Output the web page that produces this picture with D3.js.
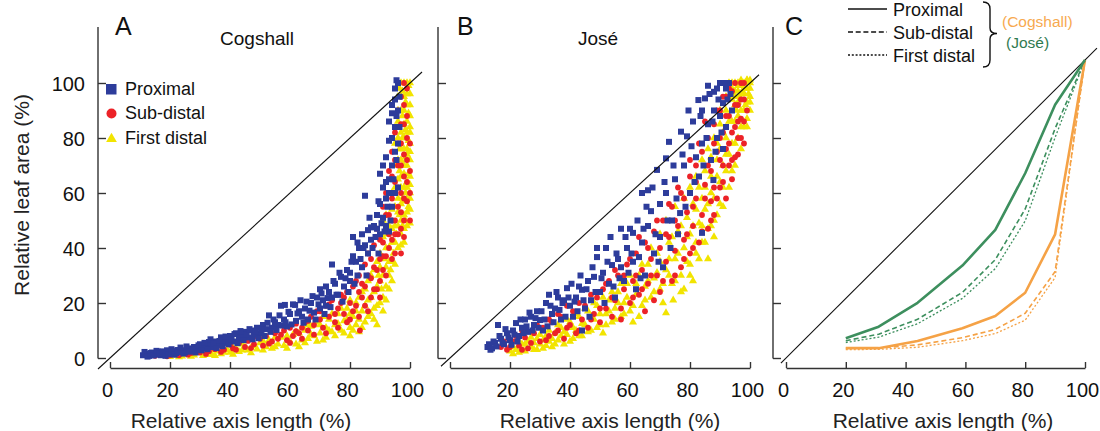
<!DOCTYPE html>
<html>
<head>
<meta charset="utf-8">
<script src="https://cdn.jsdelivr.net/npm/d3@7"></script>
<style>
  html, body { margin: 0; padding: 0; background: #fff; }
  svg { display: block; font-family: "Liberation Sans", Arial, Helvetica, sans-serif; }
</style>
</head>
<body>
<svg id="chart" width="1100" height="431"></svg>
<script>
// ---------------- DATA ----------------
const xTicks = [0, 20, 40, 60, 80, 100];
const yTicks = [0, 20, 40, 60, 80, 100];
const seriesNames = ["Proximal", "Sub-distal", "First distal"];
const panelTitles = ["Cogshall", "José"];

// Panel A – Cogshall  [relative axis length, relative leaf area]
const cogshallProximal = [
  [11,1],[12,1.5],[13,0.8],[14,2],[15,1.2],[16,2.3],[17,1],[18,1.8],[20,1.5],[21,2.5],[22,1.8],[24,2.8],
  [25,2],[26,3.5],[27,2.5],[28,4],[29,3],[30,5],[31,3.5],[32,4.5],[33,5.8],[34,4],[35,6],[36,4.8],
  [37,7.5],[38,5.5],[39,6.5],[40,8],[41,6],[42,9],[43,7],[44,8],[45,9.5],[46,7.5],[47,10],[48,8.5],
  [49,11],[50,9],[51,12],[52,10.5],[53,15.5],[54,11],[55,13],[56,12],[57,19],[58,14],[59,11.5],[60,16],
  [61,19.5],[62,13.5],[63,17],[64,15],[65,18],[66,14],[67,20],[68,16.5],[69,22],[70,18],[70,25],[71,21],
  [72,19],[73,24],[74,34],[74,22],[75,27],[76,23],[77,29.5],[78,26],[79,32],[80,28],[80,31],[81,44],
  [81,37],[82,35],[83,40],[84,45],[84,33],[85,59],[85,41],[86,46.5],[86,38],[87,43],[88,48],[89,47],
  [89,52],[90,45],[90,67],[90,56],[91,51],[91,62],[92,73],[92,48],[92,58],[93,79],[93,65],[93,46],
  [94,89],[94,70],[94,55],[95,94],[95,84],[95,75],[96,100],[96,90],[96,62],
  [11.5,2.2],[12.5,0.5],[13.5,1.8],[14.5,0.9],[15.5,2.6],[16.5,1.5],[17.5,2.4],[18.5,0.8],[19,2.8],[19.5,1.4],
  [20.5,3.2],[21.5,1.2],[22.5,2.9],[23,2.1],[23.5,3.8],[24.5,1.6],[25.5,4.2],[26.5,2.3],[27.5,3.2],[28.5,2],
  [29.5,4.6],[30.5,2.8],[31.5,5.5],[32.5,3.2],[33.5,6.8],[34.5,5.2],[35.5,3.6],[36.5,6.2],[37.5,4.3],[38.5,7.8],
  [39.5,5],[40.5,6.8],[41.5,8.7],[42.5,5.4],[43.5,9.8],[44.5,6.5],[45.5,8.4],[46.5,10.5],[47.5,6.8],[48.5,9.5],
  [49.5,7.2],[50.5,10.2],[51.5,8],[52.5,12.8],[53.5,9.5],[54.5,14],[55.5,10.2],[56.5,15.5],[57.5,11.8],[58.3,19.3],
  [58.5,13],[59.5,16.8],[60.5,12.2],[61.7,19.3],[62.5,16.2],[63.5,21],[64.5,12.8],[65.5,20.5],[66.5,17.2],[67.5,22.5],
  [68.5,14],[69.5,19.5],[70.5,23.5],[71.5,16],[72,26],[72.5,21.8],[73.5,18.5],[74.5,28],[75.5,23],[76.5,31],
  [77.5,20.5],[78.5,29],[79.5,24],[80.5,35],[81.5,27],[82.5,42],[82.5,30],[83.5,36],[84.5,40],[85.5,30],
  [86.5,51],[87.5,40],[87,47.5],[88.5,44],[89.5,38],[89.5,57],[90.5,49],[91,70],[91.5,46],[92,64],
  [92.5,55],[93,86],[93,60],[93.5,50],[94,80],[94,92],[94.5,65],[95,60],[95,98],[95.5,88],
  [95.5,72],[96,78],[96.5,95],[96.5,84],[95.5,101]
];
const cogshallSubDistal = [
  [15,0.8],[18,1.2],[20,1],[22,1.5],[24,2],[26,1.2],[28,2.5],[30,2],[31,3.5],[33,2.5],[35,3.2],[36,4.5],
  [38,3],[40,4.8],[41,3.5],[43,5.5],[45,4],[46,6.2],[48,5],[50,7],[51,4.5],[52,8],[54,6],[55,9],
  [56,7],[58,10],[59,6.5],[60,11],[61,8],[62,12.5],[63,9],[64,11],[65,13],[66,10],[67,15],[68,12],
  [69,17],[70,14],[71,11],[72,19],[73,15],[74,21],[75,13],[76,18],[77,23],[78,16],[79,24],[80,20],
  [80,14],[81,26],[82,19],[83,24],[83,30],[83.3,10],[84,22],[85,34],[85,26],[86,17],[86,38],[87,29],
  [87,22],[88,41],[88,33],[89,25],[89,47],[90,36],[90,28],[91,55],[91,42],[91,32],[92,60],[92,48],
  [92,37],[93,68],[93,52],[93,40],[94,75],[94,58],[94,43],[95,82],[95,64],[95,50],[95,38],[96,90],
  [96,70],[96,55],[97,95],[97,78],[97,60],[97,47],[98,85],[98,66],[98,50],[99,98],[99,72],[99,57],
  [100,68],[100,50],
  [16,1.8],[19,0.6],[21,2.3],[23,1],[25,2.8],[27,1.8],[29,3.2],[32,1.5],[34,3.8],[37,2.2],[39,5.6],[42,3],
  [44,6.8],[47,3.6],[49,7.8],[53,5.2],[57,8.5],[60,5.5],[62,9.8],[64,7],[66,13.5],[68,8.5],[70,17],[72,9],
  [73,19.5],[75,16],[76,11],[77,20],[78,22],[79,13],[81,17],[82,28],[83,15],[84,27],[85,19],[86,30],
  [87,36],[88,25],[89,32],[90,43],[90,22],[91,37],[92,52],[92,30],[93,45],[93,60],[94,50],[94,66],
  [94,36],[95,72],[95,45],[96,62],[96,78],[96,45],[97,85],[97,70],[97,53],[98,92],[98,74],[98,58],
  [98,44],[99,88],[99,80],[99,64],[100,78],[100,60],[97,38],[96,100],[98,100]
];
const cogshallFirstDistal = [
  [20,0.5],[22,1],[24,0.7],[26,1.5],[28,1],[30,1.8],[31,0.8],[33,2],[34,1.2],[36,2.5],[37,1.5],[39,3],
  [40,2],[42,3.5],[43,2.3],[45,4],[46,2.8],[48,4.5],[49,3.2],[50,5.5],[52,4],[53,6.5],[54,3.5],[56,5],
  [57,7.5],[58,4.5],[60,6],[61,8.5],[62,5],[63,9],[64,6.5],[65,10],[66,7],[67,11.5],[68,8],[69,13],
  [70,9],[71,6.5],[72,11],[73,14],[74,9.5],[75,12],[76,16],[77,10],[78,13.5],[79,18],[80,11],[80,8],
  [81,15],[82,20],[82,12],[83,9.5],[84,17],[84,24],[85,13],[86,21],[86,28],[87,16],[88,32],[88,24],
  [89,19],[89,12],[90,38],[90,28],[91,22],[91,44],[92,33],[92,26],[92,52],[93,40],[93,30],[94,47],
  [94,60],[94,35],[95,55],[95,70],[95,42],[96,80],[96,48],[96,65],[97,90],[97,72],[97,56],[97,45],
  [98,100],[98,95],[98,85],[98,76],[98,62],[98,52],[99,100],[99,92],[99,82],[99,70],[99,58],[99,48],
  [100,100],[100,96],[100,88],[100,78],[100,66],[100,54],[97,100],[97,82],[96,95],[96,86],[97,66],[99,64],
  [100,60],[98,70],[100,84],[99,76],[98,90],
  [21,1.5],[23,0.4],[25,1.8],[27,0.6],[29,2.2],[32,1.2],[35,0.8],[35,2.8],[38,2],[41,1.3],[41,3.8],[44,2.8],
  [44,5],[47,3.8],[47,1.8],[51,2.8],[51,6.2],[55,4],[55,7.5],[59,3.5],[59,8],[62,9.5],[63,4],[65,5.5],
  [66,12],[67,8.5],[69,6],[70,12],[71,15],[72,7.5],[73,10],[74,16],[75,8],[76,12.5],[77,18],[78,9],
  [79,14],[80,16],[80,21],[81,10],[82,17],[83,22],[83,14],[84,11],[85,19],[85,25],[86,15],[87,22],
  [87,30],[88,18],[88,14],[89,26],[89,35],[90,20],[90,33],[91,30],[91,17],[91,50],[92,40],[92,21],
  [93,35],[93,48],[93,25],[94,42],[94,54],[94,28],[95,48],[95,62],[95,34],[95,78],[96,58],[96,72],
  [96,40],[96,90],[97,62],[97,50],[97,76],[97,95],[98,57],[98,67],[98,80],[98,47],[99,53],[99,62],
  [99,74],[99,86],[99,96],[100,49],[100,58],[100,72],[100,82],[100,92],[97,41],[98,42],
  [96.5,52],[96.5,68],[96.5,76],[96.5,98],[97.5,48],[97.5,58],[97.5,70],[97.5,80],[97.5,88],[97.5,97],
  [98.5,50],[98.5,60],[98.5,73],[98.5,83],[98.5,93],[99.5,55],[99.5,67],[99.5,79],[99.5,89],[99.5,99],
  [100,75],[100,63],[96,53],[95.5,45],[94.5,38],[93.5,32],[92.5,45],[91.5,36],[90.5,25],[89.5,30]
];

// Panel B – José
const joseProximal = [
  [12.5,4],[13,5],[14,3.5],[15,5.5],[16,12],[17,7],[18,5],[19,9],[20,6.5],[21,10],[22,12.7],[23,8],
  [24,11],[25,14],[26,9.5],[27,15],[28,12],[29,17],[30,13.8],[31,10],[32,20],[33,23],[34,16],[35,18],
  [36,22],[37,14],[38,21],[39,25.4],[40,19],[41,15],[42,22],[43,26],[44,24.8],[44,10],[45,18],[46,28],
  [47,21],[48,29.5],[49,40],[49,36.7],[50,24],[51,31],[52,40],[53,27],[54,33.8],[55,22],[56,36],[57,47],
  [57,33],[58,28],[59,40],[60,47],[61,45.5],[61,35],[62,25],[63,36.7],[64,60],[64,42],[65,30],[66,61],
  [66,48],[67,53.4],[68,38],[69,68.4],[70,56],[70,44],[71,33],[72,72.6],[72,60],[73,78.6],[74,50],[75,65],
  [76,45],[76.7,52.7],[77,82.3],[78,70],[79,80.6],[80,60],[81,86],[82,73],[82.8,93.8],[83,66],[84,45.5],[84,78],
  [85,94.4],[86,85],[87,72],[87.8,64.7],[88,96.8],[88,90],[89,80],[90,100],[90,88],[91,92.7],[91,76],[92,98],
  [92,84],[93,100],[94,90],
  [13.5,3],[14.5,6],[15.5,4.2],[16.5,8],[17.5,5.5],[18.5,10.5],[19.5,7.5],[20.5,4.8],[21.5,8.5],[22.5,6],
  [23.5,14],[24.5,9],[25.5,11.5],[26.5,16.5],[27.5,10],[28.5,14.5],[29.5,11],[30.5,17],[31.5,14],[32.5,11.5],
  [33.5,19],[34.5,13],[35.5,24],[36.5,17.5],[37.5,20],[38.5,15],[39.5,22],[40.5,27],[41.5,20.5],[42.5,17],
  [43.5,30],[44.5,21],[45.5,25],[46.5,15],[47.5,33],[48.5,24],[50.5,29],[51.5,20],[52.5,35],[53.5,44],
  [54.5,26],[55.5,38],[56.5,29],[58.5,44],[59.5,31],[60.5,38],[62.5,50],[63.5,29],[64.5,47],[65.5,55],
  [67.5,62],[68.5,45],[69.5,35],[71.5,64],[72.5,50],[73.5,40],[74.5,70],[75.5,58],[77.5,74],[78.5,55],
  [79.5,90],[80.5,77],[81.5,64],[83.5,88],[84.5,70],[85.5,80],[86.5,96],[87.5,86],[88.5,75],[89.5,94],
  [90.5,82],[92.5,94],[93.5,96],[91.5,100],[89,98],[84,90],[86,99]
];
const joseSubDistal = [
  [17,4],[19,3],[21,6],[23,4.5],[25,7.5],[26,3.5],[28,9],[30,6],[31,11],[33,8],[34,13],[36,10],
  [37,15],[38,7],[40,12],[41,17],[42,9],[44,14],[45,19],[46,11],[48,16],[49,22],[50,13],[51,25],
  [52,18],[53,28],[54,15],[55,21],[56,30],[57,18],[58,25],[59,34],[60,20],[61,28],[62,38],[63,23],
  [64,32],[65,17],[65,42],[66,27],[67,36],[68,46],[69,30],[70,40],[70,24],[71,50],[72,35],[73,44],
  [74,28],[74,55],[75,39],[76,48],[77,60],[77,33],[78,43],[79,53],[80,38],[80,66],[81,48],[82,58],
  [82,70],[83,42],[84,52],[84,75],[85,63],[86,47],[86,80],[87,57],[87,68],[88,85],[88,52],[89,75],
  [90,62],[90,90],[91,70],[91,82],[92,95],[92,58],[93,78],[93,88],[94,65],[94,97],[95,84],[95,73],
  [96,92],[96,80],[97,100],[97,87],[98,94],[98,78],
  [18,6],[20,4],[22,8],[24,3],[24,10],[27,5.5],[29,12],[32,6.5],[33,14],[35,9],[36,16],[39,11],
  [39,19],[43,10],[43,20],[47,14],[47,23],[50,18],[52,27],[54,22],[55,32],[57,14],[58,30],[60,36],
  [61,22],[62,30],[63,44],[64,25],[66,40],[67,30],[68,21],[69,50],[71,28],[72,45],[73,56],[75,30],
  [75,50],[76,62],[78,36],[78,58],[79,45],[80,72],[81,55],[81,40],[82,64],[83,78],[84,46],[85,58],
  [85,86],[86,70],[87,50],[88,62],[88,78],[89,90],[89,58],[90,72],[90,80],[91,64],[91,95],[92,76],
  [92,88],[93,70],[93,98],[94,82],[94,72],[95,92],[95,100],[96,86],[96,74],[97,94],[97,80],[98,100],
  [98,86],[99,90]
];
const joseFirstDistal = [
  [20,2.5],[21,4],[22,3],[24,5],[25,2.5],[26,6],[27,4],[28,3],[29,7],[30,5],[31,3.5],[32,8],
  [33,6],[34,4],[35,9],[36,6.5],[37,11],[38,5],[39,8.5],[40,13],[41,7],[42,10],[43,15],[44,8],
  [45,12],[46,17],[47,10],[48,14],[49,19],[50,12],[51,9],[52,16],[53,21],[54,13],[55,18],[56,24],
  [57,15],[58,20],[59,27],[60,17],[61,13],[62,23],[63,30],[64,19],[65,26],[66,34],[67,22],[68,29],
  [69,38],[70,25],[71,20],[72,32],[72,16.4],[73,42],[74,27],[74.4,21],[75,36],[76,46],[77,30],[78,40],
  [78,25],[79,51],[80,34],[80,45],[81,28],[81,56],[82,38],[83,49],[83,62],[84,42],[85,54],[85,68],
  [86,36],[86,47],[87,60],[87,73],[88,50],[88,44],[89,66],[89,78],[90,56],[90,85],[91,70],[91,62],
  [92,80],[92,90],[93,74],[93,95],[94,86],[94,68],[95,92],[95,78],[95,100],[96,88],[96,97],[96,100],
  [97,84],[97,94],[98,100],[98,90],[99,98],[99,87],[100,100],[100,95],[94,100],[93,100],[97,99],[99,101],
  [21,1.5],[23,6],[23,2],[25,5],[27,7.5],[28,5.5],[29,3],[30,8.5],[31,6.5],[32,4.5],[33,10],[34,7],
  [35,5],[36,12],[37,8],[38,9.5],[39,14],[40,6],[41,11],[42,16],[43,8],[44,12.5],[45,18],[46,9.5],
  [47,15],[48,20],[49,11],[50,16],[51,22],[52,12],[53,17],[54,24],[55,14],[56,20],[57,27],[58,16],
  [59,22],[60,30],[61,19],[62,27],[63,15],[64,34],[65,21],[66,28],[67,40],[68,24],[69,31],[70,45],
  [70,35],[71,27],[72,50],[73,30],[73,36],[74,44],[75,28],[75,55],[76,38],[77,48],[77,24],[78,58],
  [79,35],[79,44],[80,62],[80,30],[81,48],[82,42],[82,66],[82,54],[83,36],[84,58],[84,72],[84,48],
  [85,42],[85,62],[86,76],[86,56],[87,48],[87,66],[88,80],[88,58],[89,52],[89,72],[90,64],[90,90],
  [90,76],[91,82],[91,55],[92,68],[92,95],[92,74],[93,86],[93,62],[94,78],[94,94],[95,70],[95,86],
  [96,80],[96,93],[97,90],[97,76],[98,96],[98,84],[99,93],[100,98],[100,90],[95,97],[96,99],[97,101],
  [99,101],[100,101],[98,98],[94,98],[95,95],
  [93.5,98],[94.5,96],[96.5,95],[97.5,97],[98.5,92],[99.5,96],[100,93],[97,96],[95.5,90],[99,84]
];

// Panel C – mean curves
const meanX = [20, 31, 44, 59, 70, 80, 90, 100];
const cogshallProximalMean    = [3.3, 3.3, 5.7, 10, 14.1, 21.9, 41.5, 100];
const cogshallSubDistalMean   = [3.3, 3.3, 4.4, 6.8, 9.6, 15, 29, 100];
const cogshallFirstDistalMean = [2.8, 2.9, 3.6, 5.8, 8.2, 12.7, 27, 100];
const joseProximalMean        = [6.6, 10.5, 18.5, 31, 43, 62, 85, 100];
const joseSubDistalMean       = [5.8, 8, 13, 22, 33, 50, 77, 100];
const joseFirstDistalMean     = [5.2, 7, 11.5, 20, 30, 46, 74, 100];

// ---------------- STYLE / LAYOUT ----------------
const FONT = '"Liberation Sans", Arial, Helvetica, sans-serif';
const colBlue = "#2d3c9b", colRed = "#ec2227", colYellow = "#f2e400";
const colGreen = "#3d8f5e", colOrange = "#f5a246";
const axisColor = "#333";

const svg = d3.select("#chart");

const yMain = d3.scaleLinear().domain([0, 100]).range([358, 83]);
const yC = d3.scaleLinear().domain([0, 100]).range([358, 60]);

const panels = [
  { letter: "A", letterX: 115, yAxisX: 98,  xRange: [110, 410], title: panelTitles[0], titleX: 257, xTitleX: 241, yLabels: true,
    data: [cogshallProximal, cogshallSubDistal, cogshallFirstDistal], diag: [-4, 104] },
  { letter: "B", letterX: 457, yAxisX: 438, xRange: [450, 750], title: panelTitles[1], titleX: 598, xTitleX: 610, yLabels: false,
    data: [joseProximal, joseSubDistal, joseFirstDistal], diag: [-3, 103] },
  { letter: "C", letterX: 785, yAxisX: 773, xRange: [786, 1085], title: null, xTitleX: 943, yLabels: false, data: null, diag: [-1.7, 104] }
];

panels.forEach(p => {
  const x = d3.scaleLinear().domain([0, 100]).range(p.xRange);
  const g = svg.append("g");
  const yS = p.letter === "C" ? yC : yMain;

  // y axis line + ticks
  g.append("line").attr("x1", p.yAxisX).attr("x2", p.yAxisX).attr("y1", 27).attr("y2", 358.5)
    .attr("stroke", axisColor).attr("stroke-width", 1.4);
  const yAx = d3.axisLeft(yMain).tickValues(yTicks).tickSizeInner(-8).tickSizeOuter(0).tickPadding(13)
    .tickFormat(p.yLabels ? d3.format("d") : () => "");
  const yg = g.append("g").attr("transform", `translate(${p.yAxisX},0)`).call(yAx);
  yg.select(".domain").remove();
  yg.selectAll(".tick line").attr("stroke", axisColor).attr("stroke-width", 1.4);
  yg.selectAll(".tick text").attr("font-family", FONT).attr("font-size", 20).attr("fill", "#111").attr("dy", "0.35em");

  // x axis
  const xAx = d3.axisBottom(x).tickValues(xTicks).tickSizeInner(-6).tickSizeOuter(0).tickPadding(15).tickFormat(d3.format("d"));
  const xg = g.append("g").attr("transform", "translate(0,368)").call(xAx);
  xg.select(".domain").attr("stroke", axisColor).attr("stroke-width", 1.4);
  xg.selectAll(".tick line").attr("stroke", axisColor).attr("stroke-width", 1.4);
  xg.selectAll(".tick text").attr("font-family", FONT).attr("font-size", 20).attr("fill", "#111").attr("dx", -3);

  // x title
  g.append("text").attr("x", p.xTitleX).attr("y", 428).attr("text-anchor", "middle")
    .attr("font-family", FONT).attr("font-size", 21).attr("fill", "#222").text("Relative axis length (%)");

  // panel letter
  g.append("text").attr("x", p.letterX).attr("y", 35).attr("font-family", FONT).attr("font-size", 25)
    .attr("fill", "#111").text(p.letter);

  if (p.title) {
    g.append("text").attr("x", p.titleX).attr("y", 45).attr("text-anchor", "middle")
      .attr("font-family", FONT).attr("font-size", 19).attr("fill", "#111").text(p.title);
  }

  // scatter
  if (p.data) {
    const plot = g.append("g");
    plot.selectAll("path.tri").data(p.data[2]).join("path").attr("class", "tri")
      .attr("d", d3.symbol(d3.symbolTriangle, 28))
      .attr("transform", d => `translate(${x(d[0])},${yS(d[1])})`).attr("fill", colYellow);
    plot.selectAll("circle").data(p.data[1]).join("circle")
      .attr("cx", d => x(d[0])).attr("cy", d => yS(d[1])).attr("r", 2.9).attr("fill", colRed);
    plot.selectAll("rect").data(p.data[0]).join("rect")
      .attr("x", d => x(d[0]) - 3).attr("y", d => yS(d[1]) - 3).attr("width", 6).attr("height", 6)
      .attr("fill", colBlue);
  }

  // 1:1 line
  g.append("line").attr("x1", x(p.diag[0])).attr("y1", yS(p.diag[0])).attr("x2", x(p.diag[1])).attr("y2", yS(p.diag[1]))
    .attr("stroke", "#111").attr("stroke-width", 1.1);

  if (p.letter === "C") {
    const line = d3.line().x((d, i) => x(meanX[i])).y(d => yC(d));
    const curves = [
      { v: cogshallSubDistalMean, c: colOrange, w: 1.6, dash: "5,3" },
      { v: cogshallFirstDistalMean, c: colOrange, w: 1.3, dash: "2,2" },
      { v: joseSubDistalMean, c: colGreen, w: 1.6, dash: "5,3" },
      { v: joseFirstDistalMean, c: colGreen, w: 1.3, dash: "2,2" },
      { v: cogshallProximalMean, c: colOrange, w: 2.6, dash: null },
      { v: joseProximalMean, c: colGreen, w: 2.6, dash: null }
    ];
    curves.forEach(cv => {
      g.append("path").attr("d", line(cv.v)).attr("fill", "none").attr("stroke", cv.c)
        .attr("stroke-width", cv.w).attr("stroke-dasharray", cv.dash).attr("stroke-linejoin", "round");
    });
  }
});

// y axis title
svg.append("text").attr("transform", "translate(28.5,195) rotate(-90)").attr("text-anchor", "middle")
  .attr("font-family", FONT).attr("font-size", 21).attr("fill", "#222").text("Relative leaf area (%)");

// Legend A
const legA = svg.append("g");
const legRows = [95, 119, 144];
legA.append("rect").attr("x", 106).attr("y", 84).attr("width", 10.5).attr("height", 10.5).attr("fill", colBlue);
legA.append("circle").attr("cx", 111.5).attr("cy", 113.5).attr("r", 5).attr("fill", colRed);
legA.append("path").attr("d", d3.symbol(d3.symbolTriangle, 50)).attr("transform", "translate(111.5,139)").attr("fill", colYellow);
seriesNames.forEach((n, i) => {
  legA.append("text").attr("x", 125).attr("y", legRows[i]).attr("font-family", FONT).attr("font-size", 18)
    .attr("fill", "#111").text(n);
});

// Legend C
const legC = svg.append("g");
const legCY = [9, 32, 55];
const legCDash = [null, "5,2.7", "2,1.8"];
seriesNames.forEach((n, i) => {
  legC.append("line").attr("x1", 848).attr("x2", 887).attr("y1", legCY[i]).attr("y2", legCY[i])
    .attr("stroke", "#111").attr("stroke-width", 1.3).attr("stroke-dasharray", legCDash[i]);
  legC.append("text").attr("x", 893).attr("y", legCY[i] + 6.5).attr("font-family", FONT).attr("font-size", 18)
    .attr("fill", "#111").text(n);
});
legC.append("path").attr("d", "M983,2 Q990,2 990,9 L990,28 Q990,33.5 997,33.5 Q990,33.5 990,39 L990,60 Q990,67 983,67")
  .attr("fill", "none").attr("stroke", "#111").attr("stroke-width", 1.4);
legC.append("text").attr("x", 1002).attr("y", 27).attr("font-family", FONT).attr("font-size", 15.5)
  .attr("fill", "#f7a94f").text("(" + panelTitles[0] + ")");
legC.append("text").attr("x", 1006).attr("y", 48).attr("font-family", FONT).attr("font-size", 15.5)
  .attr("fill", "#2f7a50").text("(" + panelTitles[1] + ")");
</script>
</body>
</html>
